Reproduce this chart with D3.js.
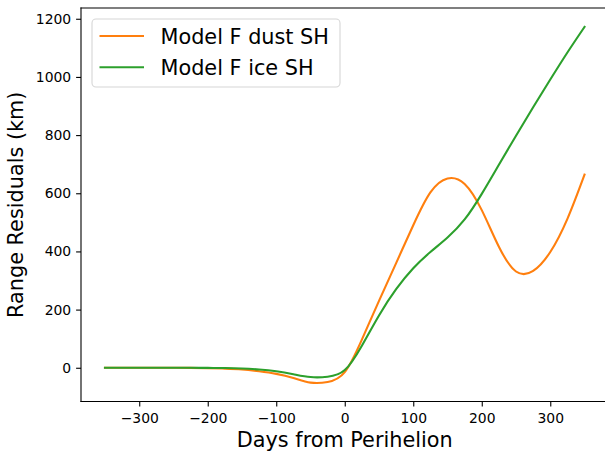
<!DOCTYPE html>
<html>
<head>
<meta charset="utf-8">
<script src="https://cdn.jsdelivr.net/npm/d3@7"></script>
<style>
  body { margin: 0; background: #fff; }
  svg { display: block; font-family: "DejaVu Sans", sans-serif; }
</style>
</head>
<body>
<svg id="chart" width="605" height="455"></svg>
<script>
// days from perihelion, sampled every 25 days
var days = [-350, -325, -300, -275, -250, -225, -200, -175, -150, -125, -100, -75, -50, -25, 0,
            25, 50, 75, 100, 125, 150, 175, 200, 225, 250, 275, 300, 325, 350];

var dustSH = [0, 0, 0, 0, 0, -0.5, -1.5, -3, -5.5, -12, -21, -35, -51, -49, -15,
              97, 230, 360, 490, 603, 651, 632, 542, 416, 331, 333, 398, 512, 664];

var iceSH = [0, 0, 0, 0, 0, 0, -0.5, -1, -2.5, -6, -12, -22, -32, -31, -8,
             76, 180, 270, 342, 398, 448, 510, 598, 698, 798, 896, 991, 1084, 1172];

var xTicks = [-300, -200, -100, 0, 100, 200, 300];
var yTicks = [0, 200, 400, 600, 800, 1000, 1200];

var seriesNames = ['Model F dust SH', 'Model F ice SH'];
var seriesColors = ['#ff7f0e', '#2ca02c'];

var margin = {left: 81, top: 8, bottom: 401.5, right: 608.5};

var x = d3.scaleLinear().domain([-385, 385]).range([margin.left, margin.right]);
var y = d3.scaleLinear().domain([-116, 1237]).range([margin.bottom, margin.top]);

var svg = d3.select('#chart');

var line = d3.line()
  .x(function(d, i){ return x(days[i]); })
  .y(function(d){ return y(d); })
  .curve(d3.curveNatural);

[dustSH, iceSH].forEach(function(s, i){
  svg.append('path')
    .datum(s)
    .attr('d', line)
    .attr('fill', 'none')
    .attr('stroke', seriesColors[i])
    .attr('stroke-width', 2.1)
    .attr('stroke-linejoin', 'round')
    .attr('stroke-linecap', 'square');
});

// axes
var xAxis = d3.axisBottom(x).tickValues(xTicks).tickSizeOuter(0).tickSize(4.9).tickPadding(4.9)
  .tickFormat(function(d){ return d < 0 ? '\u2212' + Math.abs(d) : d; });
var yAxis = d3.axisLeft(y).tickValues(yTicks).tickSizeOuter(0).tickSize(4.9).tickPadding(4.9)
  .tickFormat(d3.format('d'));

var gx = svg.append('g').attr('transform', 'translate(0,' + margin.bottom + ')').call(xAxis);
var gy = svg.append('g').attr('transform', 'translate(' + margin.left + ',0)').call(yAxis);

[gx, gy].forEach(function(g){
  g.select('.domain').remove();
  g.selectAll('.tick line').attr('stroke', '#000').attr('stroke-width', 1.1);
  g.selectAll('.tick text').attr('font-size', 13.9).attr('fill', '#000')
    .attr('font-family', '"DejaVu Sans", sans-serif');
});
gx.selectAll('.tick text').attr('dy', '0.85em');

// spines
svg.append('line').attr('x1', margin.left).attr('x2', margin.left)
  .attr('y1', margin.top).attr('y2', margin.bottom)
  .attr('stroke', '#000').attr('stroke-width', 1.1).attr('stroke-linecap', 'square');
svg.append('line').attr('x1', margin.left).attr('x2', margin.right)
  .attr('y1', margin.bottom).attr('y2', margin.bottom)
  .attr('stroke', '#000').attr('stroke-width', 1.1).attr('stroke-linecap', 'square');
svg.append('line').attr('x1', margin.left).attr('x2', margin.right)
  .attr('y1', margin.top).attr('y2', margin.top)
  .attr('stroke', '#000').attr('stroke-width', 1.1).attr('stroke-linecap', 'square');

// axis labels
svg.append('text')
  .attr('x', (margin.left + margin.right) / 2)
  .attr('y', 447)
  .attr('text-anchor', 'middle')
  .attr('font-size', 20.8)
  .text('Days from Perihelion');

svg.append('text')
  .attr('transform', 'translate(23,' + ((margin.top + margin.bottom) / 2) + ') rotate(-90)')
  .attr('text-anchor', 'middle')
  .attr('font-size', 20.8)
  .text('Range Residuals (km)');

// legend
var leg = svg.append('g');
leg.append('rect')
  .attr('x', 92).attr('y', 19)
  .attr('width', 248).attr('height', 68)
  .attr('rx', 4).attr('ry', 4)
  .attr('fill', '#fff').attr('fill-opacity', 0.8)
  .attr('stroke', '#d6d6d6').attr('stroke-width', 1.1);

seriesNames.forEach(function(name, i){
  var ly = 36 + i * 31.3;
  leg.append('line')
    .attr('x1', 99.5).attr('x2', 144)
    .attr('y1', ly).attr('y2', ly)
    .attr('stroke', seriesColors[i]).attr('stroke-width', 2.1);
  leg.append('text')
    .attr('x', 160.5).attr('y', ly + 7.6)
    .attr('font-size', 20.8)
    .text(name);
});
</script>
</body>
</html>
